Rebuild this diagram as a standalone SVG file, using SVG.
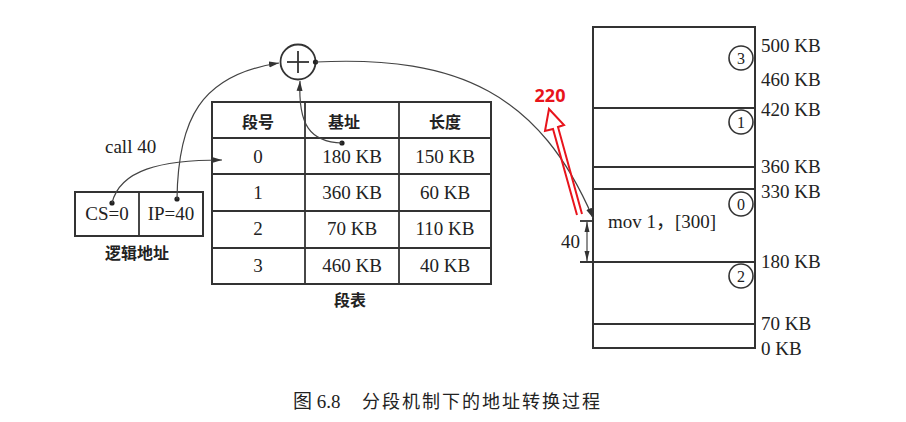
<svg xmlns="http://www.w3.org/2000/svg" width="906" height="422" viewBox="0 0 906 422">
<defs>
<marker id="ah" markerUnits="userSpaceOnUse" markerWidth="10" markerHeight="8" refX="10" refY="4" orient="auto">
<path d="M0,1 L10,4 L0,7 z" fill="#333"/>
</marker>
<marker id="dh" markerUnits="userSpaceOnUse" markerWidth="10" markerHeight="8" refX="10" refY="4" orient="auto-start-reverse">
<path d="M0,1.5 L10,4 L0,6.5 z" fill="#333"/>
</marker>
<style>
.t{font-family:"Liberation Serif","Noto Sans CJK SC",serif;font-size:19px;fill:#222}
.c{font-family:"Noto Sans CJK SC",sans-serif;font-size:16px;fill:#222;font-weight:bold}
.m{text-anchor:middle}
.box{fill:none;stroke:#333;stroke-width:2}
.ln{stroke:#333;stroke-width:1.8;fill:none}
.cv{stroke:#444;stroke-width:1.2;fill:none}
.dot{fill:#222}
.cir{fill:#fff;stroke:#333;stroke-width:1.6}
.n{font-family:"Liberation Serif",serif;font-size:16px;fill:#222;text-anchor:middle}
</style>
</defs>
<rect width="906" height="422" fill="#fff"/>

<g id="logical-address">
<rect class="box" x="75" y="192" width="128" height="44"/>
<line class="ln" x1="139" y1="192" x2="139" y2="236"/>
<text class="t m" x="107" y="220" font-size="18">CS=0</text>
<text class="t m" x="171" y="220" font-size="18">IP=40</text>
<circle class="dot" cx="112" cy="203" r="2.6"/>
<circle class="dot" cx="177" cy="199" r="2.6"/>
<text class="c m" x="137" y="259" font-size="17">逻辑地址</text>
</g>

<g id="call-label">
<text class="t" x="105" y="153">call 40</text>
</g>

<g id="adder">
<circle cx="298" cy="62" r="17.5" fill="#fff" stroke="#333" stroke-width="1.8"/>
<line class="ln" x1="287" y1="62" x2="309" y2="62"/>
<line class="ln" x1="298" y1="51" x2="298" y2="73"/>
<circle class="dot" cx="315.5" cy="62" r="2.6"/>
</g>

<g id="segment-table">
<rect class="box" x="212" y="102" width="279" height="182"/>
<line class="ln" x1="305" y1="102" x2="305" y2="284"/>
<line class="ln" x1="399" y1="102" x2="399" y2="284"/>
<line class="ln" x1="212" y1="138" x2="491" y2="138"/>
<line class="ln" x1="212" y1="174" x2="491" y2="174"/>
<line class="ln" x1="212" y1="211" x2="491" y2="211"/>
<line class="ln" x1="212" y1="248" x2="491" y2="248"/>
<text class="c m" x="258" y="128">段号</text>
<text class="c m" x="344" y="128">基址</text>
<text class="c m" x="445" y="128">长度</text>
<text class="t m" x="258" y="163">0</text>
<text class="t m" x="352" y="163">180 KB</text>
<text class="t m" x="445" y="163">150 KB</text>
<text class="t m" x="258" y="199">1</text>
<text class="t m" x="352" y="199">360 KB</text>
<text class="t m" x="445" y="199">60 KB</text>
<text class="t m" x="258" y="235">2</text>
<text class="t m" x="352" y="235">70 KB</text>
<text class="t m" x="445" y="235">110 KB</text>
<text class="t m" x="258" y="272">3</text>
<text class="t m" x="352" y="272">460 KB</text>
<text class="t m" x="445" y="272">40 KB</text>
<circle class="dot" cx="342" cy="143" r="2.6"/>
<text class="c m" x="350" y="306">段表</text>
</g>

<g id="memory">
<rect class="box" x="593" y="27" width="162" height="321"/>
<line class="ln" x1="593" y1="108" x2="755" y2="108"/>
<line class="ln" x1="593" y1="167" x2="755" y2="167"/>
<line class="ln" x1="593" y1="189" x2="755" y2="189"/>
<line class="ln" x1="580" y1="262" x2="755" y2="262"/>
<line class="ln" x1="593" y1="324" x2="755" y2="324"/>
<circle class="cir" cx="741" cy="58" r="12"/><text class="n" x="741" y="63.5">3</text>
<circle class="cir" cx="741" cy="122" r="12"/><text class="n" x="741" y="127.5">1</text>
<circle class="cir" cx="741" cy="204" r="12"/><text class="n" x="741" y="209.5">0</text>
<circle class="cir" cx="741" cy="276" r="12"/><text class="n" x="741" y="281.5">2</text>
<text class="t" x="761" y="52">500 KB</text>
<text class="t" x="761" y="86">460 KB</text>
<text class="t" x="761" y="116">420 KB</text>
<text class="t" x="761" y="173">360 KB</text>
<text class="t" x="761" y="198">330 KB</text>
<text class="t" x="761" y="268">180 KB</text>
<text class="t" x="761" y="330">70 KB</text>
<text class="t" x="761" y="355">0 KB</text>
<text class="t" x="608" y="228" font-size="17">mov 1，[300]</text>
</g>

<g id="offset-dimension">
<line class="ln" x1="580" y1="221" x2="593" y2="221" stroke-width="1.2"/>
<line x1="587" y1="222" x2="587" y2="261" stroke="#333" stroke-width="1.1" marker-start="url(#dh)" marker-end="url(#dh)"/>
<text class="t" x="561" y="248" font-size="18">40</text>
</g>

<g id="connectors">
<path class="cv" d="M112,203 C120,170 160,160 222,160" marker-end="url(#ah)"/>
<path class="cv" d="M177,199 C178,120 200,75 279,63" marker-end="url(#ah)"/>
<path class="cv" d="M342,143 C310,142 298,125 300,81" marker-end="url(#ah)"/>
<path class="cv" d="M316,62 C460,55 540,95 593,218" marker-end="url(#ah)"/>
</g>

<g id="annotation">
<path d="M577,215 L553,129 L545,131 L549,109 L564,125 L558,127 L582,214" fill="none" stroke="#e8141c" stroke-width="2" stroke-linejoin="miter"/>
<text x="550" y="102" text-anchor="middle" font-family="'Open Sans','Noto Sans',sans-serif" font-weight="bold" font-size="18" fill="#e8141c">220</text>
</g>

<g id="caption">
<text class="t" x="293" y="408" font-size="17">图 6.8</text>
<text x="362" y="408" font-family="'Noto Sans CJK SC',sans-serif" font-size="18" letter-spacing="2" fill="#222">分段机制下的地址转换过程</text>
</g>
</svg>
